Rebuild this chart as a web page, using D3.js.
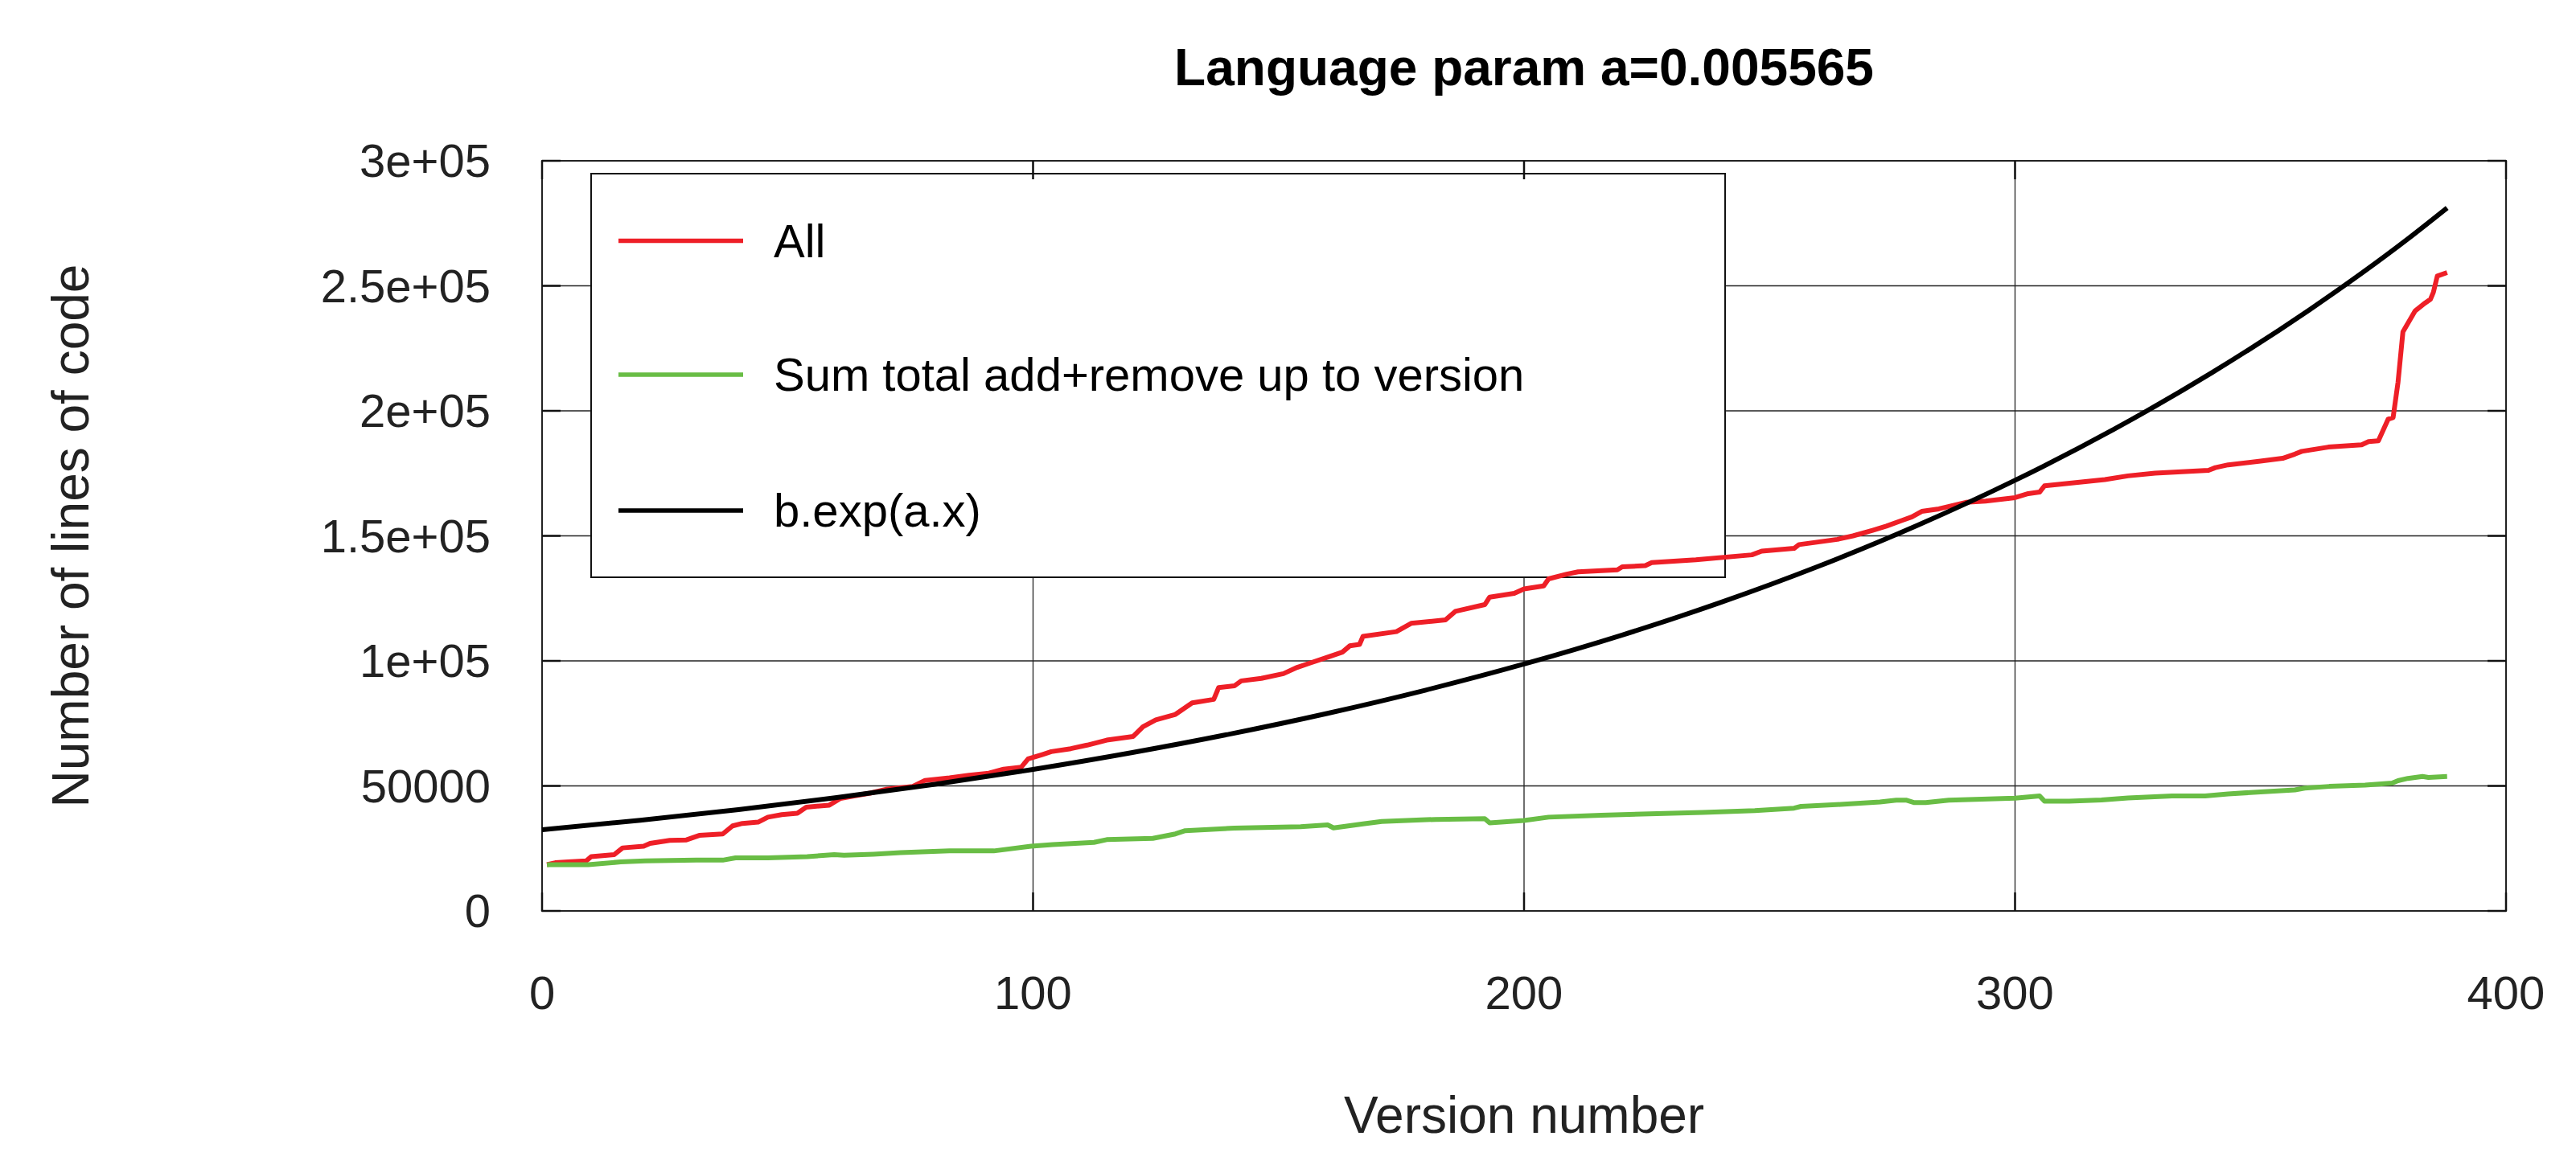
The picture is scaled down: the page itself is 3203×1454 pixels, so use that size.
<!DOCTYPE html>
<html>
<head>
<meta charset="utf-8">
<script src="https://cdn.jsdelivr.net/npm/d3@7"></script>
<style>
	body { margin: 0; background: #fff; }
	text { font-family: "Liberation Sans", Arial, sans-serif; }
</style>
</head>
<body>
<div id="chart"></div>
<script>
// values: [version, lines of code]
var allSeries = [
	[1, 18500], [2.7, 19270], [5.3, 19600], [9, 20000], [10, 21700], [14.7, 22500],
	[16.4, 25200], [20.7, 25900], [22, 27000], [26, 28200], [29.4, 28400], [32, 30200],
	[36.8, 30800], [38.8, 34000], [40.8, 35000], [44, 35500], [46, 37500], [48.8, 38500],
	[52, 39100], [53.8, 41500], [58.5, 42300], [60.8, 45000], [63.5, 46000], [66.8, 47100],
	[70, 48600], [75.5, 49800], [78, 52200], [83, 53200], [87, 54300], [91, 55100],
	[94, 56700], [97.6, 57500], [99, 60800], [102, 62600], [103.7, 63700], [107.7, 64900],
	[111, 66300], [115, 68300], [120.4, 69800], [122.4, 73700], [125, 76400], [129, 78600],
	[132.4, 83200], [136.8, 84600], [137.8, 89300], [141, 90000], [142.4, 92000], [146.5, 93000],
	[151, 94900], [153.8, 97400], [156.5, 99200], [160, 101500], [163, 103500], [164.5, 106000],
	[166.5, 106600], [167.2, 109800], [174, 111700], [177, 115000], [184, 116400], [186, 119800],
	[192, 122500], [193, 125500], [198, 127000], [200, 128800], [204, 130000], [205, 132800],
	[208.7, 134700], [211, 135600], [219, 136400], [220, 137600], [224.7, 138100], [226, 139300],
	[235, 140400], [246.4, 142400], [248.4, 143900], [255, 145000], [256, 146500], [263.8, 148600],
	[267, 150000], [271, 152200], [273.8, 153900], [277, 156200], [279, 157600], [281, 159800],
	[284.5, 160800], [290, 163400], [294, 163900], [300, 165300], [302.7, 166900], [305, 167500],
	[306, 170000], [308.8, 170600], [318.3, 172500], [323, 174000], [328.5, 175100], [339.4, 176200],
	[340.8, 177300], [343.4, 178400], [350, 179900], [354.5, 181000], [357, 182700], [358.4, 183800],
	[363.8, 185500], [370.6, 186400], [372, 187700], [374, 188000], [376, 196700], [377, 197300],
	[378, 211400], [379, 231600], [380, 235000], [381.5, 240000], [383.5, 243100], [384.6, 244600],
	[385.2, 247400], [386, 253900], [388, 255300]
];

var sumSeries = [
	[1, 18500], [9.4, 18500], [16, 19600], [21, 20000], [31.4, 20300], [36.8, 20300],
	[39.4, 21200], [46, 21200], [54, 21700], [59.5, 22500], [61.5, 22300], [67.5, 22700],
	[73, 23300], [83, 24000], [92, 24000], [99.6, 25900], [104, 26500], [112.4, 27400],
	[115, 28500], [124.4, 29000], [129, 30800], [131, 32100], [141, 33100], [154.5, 33700],
	[160, 34400], [161.2, 33200], [167.2, 34800], [171, 35800], [182, 36600], [192, 36900],
	[193, 35200], [200, 36200], [205, 37500], [215.7, 38300], [236.4, 39400], [247, 40100],
	[255, 41100], [256.4, 41800], [264.5, 42600], [272.5, 43600], [275.8, 44300], [277.8, 44300],
	[279.5, 43300], [281.8, 43300], [286.5, 44300], [300, 45100], [305, 46000], [306, 43900],
	[311, 43900], [317.6, 44400], [323, 45150], [332, 46000], [338.7, 46000], [343.4, 46800],
	[350, 47600], [357, 48400], [359, 49100], [364, 49800], [371.3, 50300], [376.8, 51100],
	[378, 52100], [380, 53000], [383, 53750], [384.2, 53400], [388, 53750]
];

var fitSeries = [
	[0, 32450], [20, 36270], [40, 40540], [60, 45310], [80, 50640], [100, 56600],
	[120, 63270], [140, 70710], [160, 79030], [180, 88330], [200, 98730], [220, 110350],
	[240, 123340], [260, 137850], [280, 154080], [300, 172210], [320, 192480], [340, 215140],
	[360, 240460], [380, 268760], [388, 281150]
];

var xTicks = [0, 100, 200, 300, 400];
var yTicks = [0, 50000, 100000, 150000, 200000, 250000, 300000];
var yTickLabels = ["0", "50000", "1e+05", "1.5e+05", "2e+05", "2.5e+05", "3e+05"];
var legendNames = ["All", "Sum total add+remove up to version", "b.exp(a.x)"];
var titleText = "Language param a=0.005565";

var colors = { all: "#ee1f27", sum: "#69bd45", fit: "#000" };

var W = 3203, H = 1454;
var margin = {top: 200, right: 87, bottom: 321, left: 674};
var width = W - margin.left - margin.right;
var height = H - margin.top - margin.bottom;

var svg = d3.select("#chart").append("svg")
	.attr("width", W)
	.attr("height", H);

var g = svg.append("g")
	.attr("transform", "translate(" + margin.left + "," + margin.top + ")");

var x = d3.scaleLinear().domain([0, 400]).range([0, width]);
var y = d3.scaleLinear().domain([0, 300000]).range([height, 0]);

// grid lines
g.append("g").selectAll("line.gx")
		.data(xTicks)
	.enter().append("line")
		.attr("x1", function(d) { return x(d); })
		.attr("x2", function(d) { return x(d); })
		.attr("y1", 0).attr("y2", height)
		.style("stroke", "#222").style("stroke-width", 1.3);

g.append("g").selectAll("line.gy")
		.data(yTicks)
	.enter().append("line")
		.attr("x1", 0).attr("x2", width)
		.attr("y1", function(d) { return y(d); })
		.attr("y2", function(d) { return y(d); })
		.style("stroke", "#222").style("stroke-width", 1.3);

// plot frame
g.append("rect")
	.attr("width", width).attr("height", height)
	.style("fill", "none").style("stroke", "#222").style("stroke-width", 2);

// tick labels
g.append("g").selectAll("text")
		.data(xTicks)
	.enter().append("text")
		.attr("x", function(d) { return x(d); })
		.attr("y", height + 122)
		.attr("text-anchor", "middle")
		.style("font-size", "58px")
		.style("fill", "#222")
		.text(function(d) { return d; });

g.append("g").selectAll("text")
		.data(yTicks)
	.enter().append("text")
		.attr("x", -64)
		.attr("y", function(d) { return y(d); })
		.attr("dy", ".35em")
		.attr("text-anchor", "end")
		.style("font-size", "58px")
		.style("fill", "#222")
		.text(function(d, i) { return yTickLabels[i]; });

// legend box (covers the grid)
var legend = g.append("g").attr("transform", "translate(61,16)");
legend.append("rect")
	.attr("width", 1410).attr("height", 502)
	.style("fill", "#fff").style("stroke", "#111").style("stroke-width", 2);

var legendRows = [colors.all, colors.sum, colors.fit];
var row = legend.selectAll(".row")
		.data(legendRows)
	.enter().append("g")
		.attr("class", "row")
		.attr("transform", function(d, i) { return "translate(0," + [83.5, 250, 419][i] + ")"; });
row.append("line")
	.attr("x1", 34).attr("x2", 189)
	.style("stroke", function(d) { return d; })
	.style("stroke-width", 5.5);
row.append("text")
	.attr("x", 227)
	.attr("dy", ".35em")
	.style("font-size", "58px")
	.text(function(d, i) { return legendNames[i]; });

// series
var line = d3.line()
	.x(function(d) { return x(d[0]); })
	.y(function(d) { return y(d[1]); });

g.append("path")
	.datum(allSeries)
	.attr("d", line)
	.style("fill", "none")
	.style("stroke", colors.all)
	.style("stroke-width", 6)
	.style("stroke-linejoin", "round");

g.append("path")
	.datum(sumSeries)
	.attr("d", line)
	.style("fill", "none")
	.style("stroke", colors.sum)
	.style("stroke-width", 6)
	.style("stroke-linejoin", "round");

g.append("path")
	.datum(fitSeries)
	.attr("d", line.curve(d3.curveMonotoneX))
	.style("fill", "none")
	.style("stroke", colors.fit)
	.style("stroke-width", 6);

// inward ticks on all four sides
var tick = g.append("g").style("stroke", "#111").style("stroke-width", 2.5);
xTicks.forEach(function(d) {
	tick.append("line").attr("x1", x(d)).attr("x2", x(d)).attr("y1", height).attr("y2", height - 23);
	tick.append("line").attr("x1", x(d)).attr("x2", x(d)).attr("y1", 0).attr("y2", 23);
});
yTicks.forEach(function(d) {
	tick.append("line").attr("x1", 0).attr("x2", 23).attr("y1", y(d)).attr("y2", y(d));
	tick.append("line").attr("x1", width).attr("x2", width - 23).attr("y1", y(d)).attr("y2", y(d));
});

// titles
svg.append("text")
	.attr("x", margin.left + width / 2)
	.attr("y", 106)
	.attr("text-anchor", "middle")
	.style("font-size", "64px")
	.style("font-weight", "bold")
	.text(titleText);

svg.append("text")
	.attr("x", margin.left + width / 2)
	.attr("y", 1409)
	.attr("text-anchor", "middle")
	.style("font-size", "64px")
	.style("fill", "#222")
	.text("Version number");

svg.append("text")
	.attr("transform", "translate(110," + (margin.top + height / 2) + ") rotate(-90)")
	.attr("text-anchor", "middle")
	.style("font-size", "64px")
	.style("fill", "#222")
	.text("Number of lines of code");
</script>
</body>
</html>
